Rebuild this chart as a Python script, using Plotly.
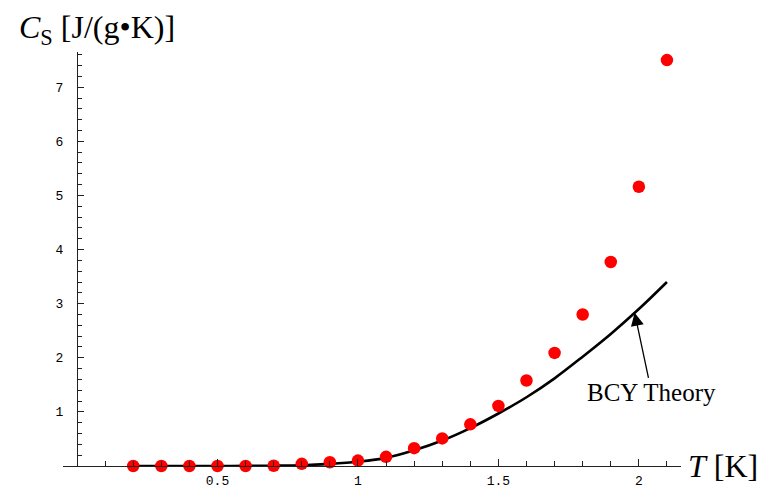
import numpy as np
import plotly.graph_objects as go

# Measured specific heat of superfluid helium (red dots)
T_exp = [0.2, 0.3, 0.4, 0.5, 0.6, 0.7, 0.8, 0.9, 1.0, 1.1,
         1.2, 1.3, 1.4, 1.5, 1.6, 1.7, 1.8, 1.9, 2.0, 2.1]
C_exp = [0.0, 0.0, 0.0, 0.0, 0.0, 0.005, 0.04, 0.07, 0.1, 0.17,
         0.33, 0.51, 0.77, 1.11, 1.58, 2.09, 2.8, 3.77, 5.16, 7.5]

# BCY theory curve
T_th = [0.2, 0.3, 0.4, 0.5, 0.6, 0.7, 0.8, 0.9, 1.0, 1.1,
        1.2, 1.3, 1.4, 1.5, 1.6, 1.7, 1.8, 1.9, 2.0, 2.1]
C_th = [0.0, 0.0, 0.0, 0.0, 0.002, 0.006, 0.015, 0.04, 0.08, 0.15,
        0.29, 0.47, 0.70, 0.97, 1.27, 1.62, 2.02, 2.44, 2.9, 3.4]

x_ticks = [0.5, 1, 1.5, 2]
y_ticks = [1, 2, 3, 4, 5, 6, 7]

x_range = [-0.05, 2.15]
y_range = [0, 7.65]

label_T = 1.985  # where the arrow meets the theory curve

serif = "Liberation Serif"
mono = "Liberation Mono"

fig = go.Figure()

fig.add_trace(go.Scatter(
    x=T_th, y=C_th, mode="lines", line=dict(color="black", width=2.6, shape="spline"),
    showlegend=False, cliponaxis=False,
))
fig.add_trace(go.Scatter(
    x=T_exp, y=C_exp, mode="markers",
    marker=dict(color="#ff0000", size=12.5, line=dict(width=0)),
    showlegend=False, cliponaxis=False,
))

# the vertical axis sits at T = 0 inside the horizontal range
yaxis_pos = (0 - x_range[0]) / (x_range[1] - x_range[0])

fig.update_layout(
    width=766, height=489,
    margin=dict(l=63, r=85, t=52, b=23),
    paper_bgcolor="white", plot_bgcolor="white",
    xaxis=dict(
        range=x_range, showgrid=False, zeroline=False, automargin=False,
        showline=True, linecolor="#222", linewidth=1.4,
        tickvals=x_ticks, ticktext=[str(v) for v in x_ticks],
        ticks="inside", ticklen=7, tickwidth=1.2, tickcolor="#222",
        minor=dict(dtick=0.1, tick0=0, ticks="inside", ticklen=5, tickcolor="#222", tickwidth=1.2),
        tickfont=dict(family=mono, size=13, color="black"),
        ticklabelstandoff=2,
    ),
    yaxis=dict(
        range=y_range, showgrid=False, zeroline=False, automargin=False,
        anchor="free", position=yaxis_pos,
        showline=True, linecolor="#222", linewidth=1.4,
        tickvals=y_ticks, ticktext=[str(v) for v in y_ticks],
        ticks="inside", ticklen=6, tickwidth=1.2, tickcolor="#222",
        minor=dict(dtick=0.2, tick0=0, ticks="inside", ticklen=4, tickcolor="#222", tickwidth=1.2),
        tickfont=dict(family=mono, size=13, color="black"),
        ticklabelstandoff=11,
    ),
    annotations=[
        dict(
            text="<i>C</i><sub>S</sub> [J/(g•K)]", xref="paper", yref="paper",
            x=-0.075, y=1.0, xanchor="left", yanchor="bottom", yshift=0,
            showarrow=False, font=dict(family=serif, size=32, color="black"),
        ),
        dict(
            text="<i>T</i> [K]", xref="paper", yref="y",
            x=1.0, y=0, xanchor="left", yanchor="middle", xshift=5,
            showarrow=False, font=dict(family=serif, size=32, color="black"),
        ),
        dict(
            text="BCY Theory", x=label_T, y=float(np.interp(label_T, T_th, C_th)),
            xref="x", yref="y", ax=17, ay=80,
            showarrow=True, arrowhead=2, arrowsize=2.0, arrowwidth=1.3, arrowcolor="black",
            font=dict(family=serif, size=25, color="black"),
        ),
    ],
)

fig.write_html("out.html")
